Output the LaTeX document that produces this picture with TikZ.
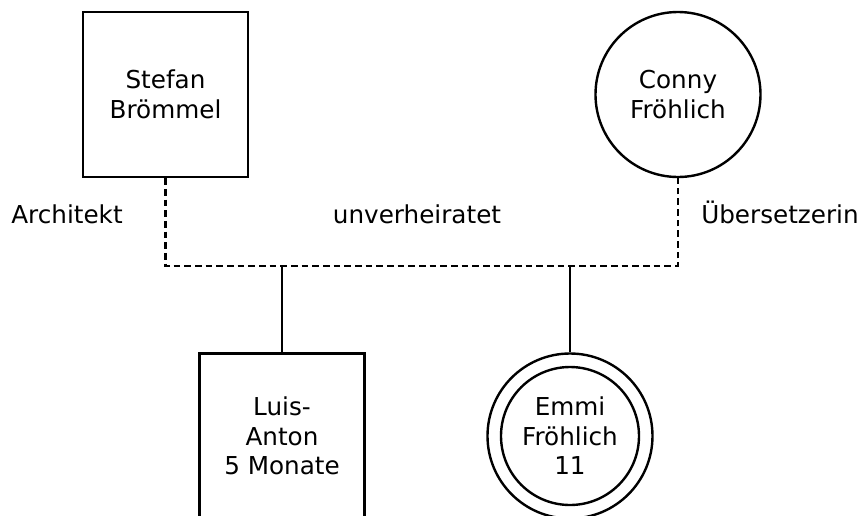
\documentclass[tikz,border=0pt]{standalone}
\usepackage{fontspec}
\setmainfont{DejaVu Sans}
\usepackage{tikz}
\usetikzlibrary{positioning,calc}
\tikzset{
  male-node/.style={draw=black, line width=1.8pt, minimum width=123.75pt,
    minimum height=123.75pt, align=center, inner sep=2pt,
    font=\fontsize{18.5}{22.2}\selectfont},
  female-node/.style={draw=black, line width=1.8pt, circle, minimum size=123.75pt,
    align=center, inner sep=2pt, font=\fontsize{18.5}{22.2}\selectfont},
  info-text/.style={font=\fontsize{18.5}{22.2}\selectfont, inner sep=0pt, anchor=base},
  couple-line/.style={line width=1.8pt, dash pattern=on 5pt off 3pt},
  child-line/.style={line width=1.8pt}
}

\begin{document}
\begin{tikzpicture}[x=0.75pt,y=-0.75pt]
\useasboundingbox[fill=white] (0,0) rectangle (861,515);

% Parents
\node[male-node] (stefan) at (165.5,94.5) {Stefan\\Brömmel};
\node[female-node] (conny) at (678,94.5) {Conny\\Fröhlich};

% Children
\node[male-node] (luis) at (282,436) {Luis-\\Anton\\5 Monate};
\node[female-node] (emmi) at (570,436) {Emmi\\Fröhlich\\11};
\draw[child-line] (emmi.center) circle[radius=51.75pt];

% Partnership line
\coordinate (bar) at (0,266);
\draw[couple-line] (stefan.south) |- (conny.south |- bar) -- (conny.south);
\draw[child-line] (luis.north) -- (luis.north |- bar);
\draw[child-line] (emmi.north) -- (emmi.north |- bar);

% Labels
\node[info-text] (job1) at (67,223) {Architekt};
\node[info-text] (status) at (417,223) {unverheiratet};
\node[info-text] (job2) at (780,223) {Übersetzerin};
\end{tikzpicture}
\end{document}
